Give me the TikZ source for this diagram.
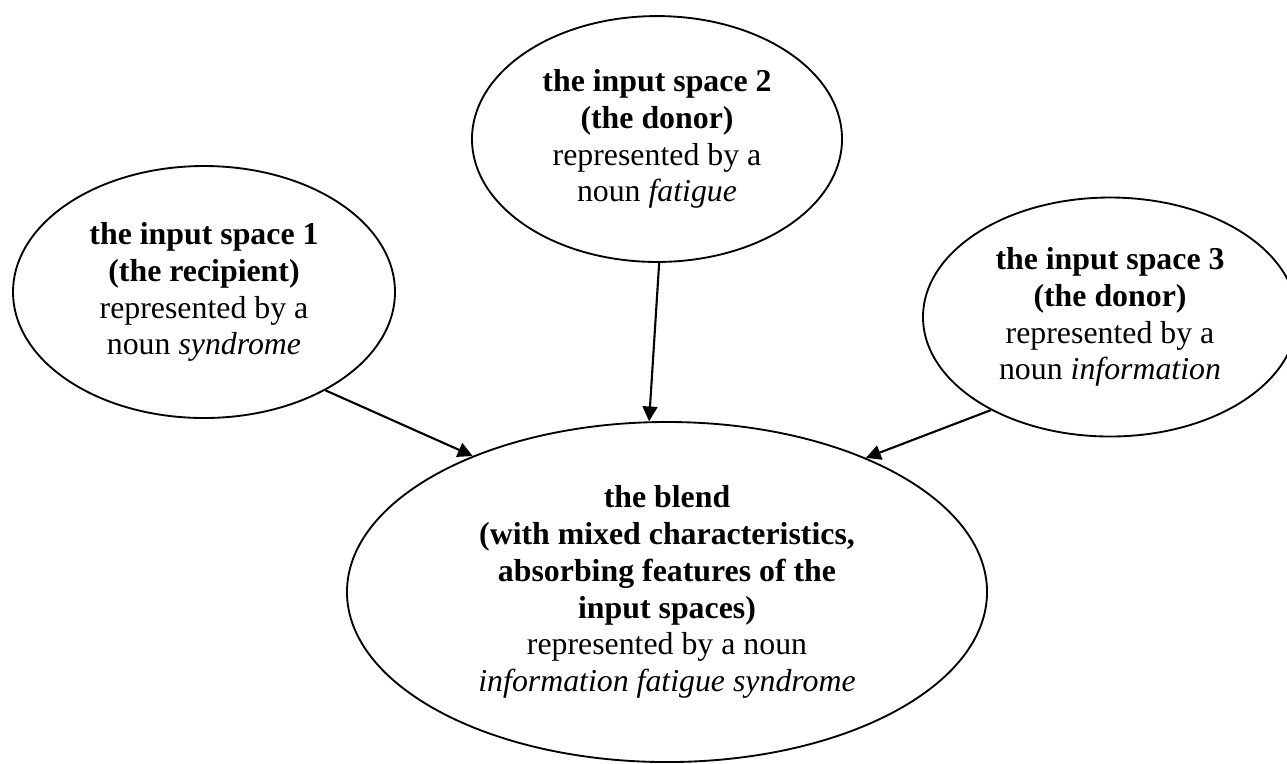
\documentclass[tikz,border=0pt]{standalone}
\usepackage{fontspec}
\setmainfont{Liberation Serif}
\usepackage{tikz}
\usetikzlibrary{shapes.geometric,arrows.meta}

\begin{document}
\begin{tikzpicture}[x=0.377pt, y=-0.377pt, >={Triangle[length=5.6pt,width=5.6pt]},
  every node/.style={font=\fontsize{12}{13.9}\selectfont, align=center},
  inputspace/.style={draw, ellipse, line width=0.7pt, inner sep=0pt},
  link/.style={->, line width=0.8pt}]
  \useasboundingbox (0,0) rectangle (1287,763);
  \node[inputspace, minimum width=144pt, minimum height=95pt] (space1) at (204,292)
    {\textbf{the input space 1}\\ \textbf{(the recipient)}\\ represented by a\\ noun \textit{syndrome}};
  \node[inputspace, minimum width=139.5pt, minimum height=92.7pt] (space2) at (657,139)
    {\textbf{the input space 2}\\ \textbf{(the donor)}\\ represented by a\\ noun \textit{fatigue}};
  \node[inputspace, minimum width=141pt, minimum height=90.1pt] (space3) at (1110,317)
    {\textbf{the input space 3}\\ \textbf{(the donor)}\\ represented by a\\ noun \textit{information}};
  \node[inputspace, minimum width=241.3pt, minimum height=128.2pt] (blend) at (667,592)
    {\textbf{the blend}\\ \textbf{(with mixed characteristics,}\\ \textbf{absorbing features of the}\\
     \textbf{input spaces)}\\ represented by a noun\\ \textit{information fatigue syndrome}};
  \draw[link] (space1.-39) -- (blend.145);
  \draw[link] (space2.-89) -- (blend.96);
  \draw[link] (space3.218) -- (blend.34);
\end{tikzpicture}
\end{document}
